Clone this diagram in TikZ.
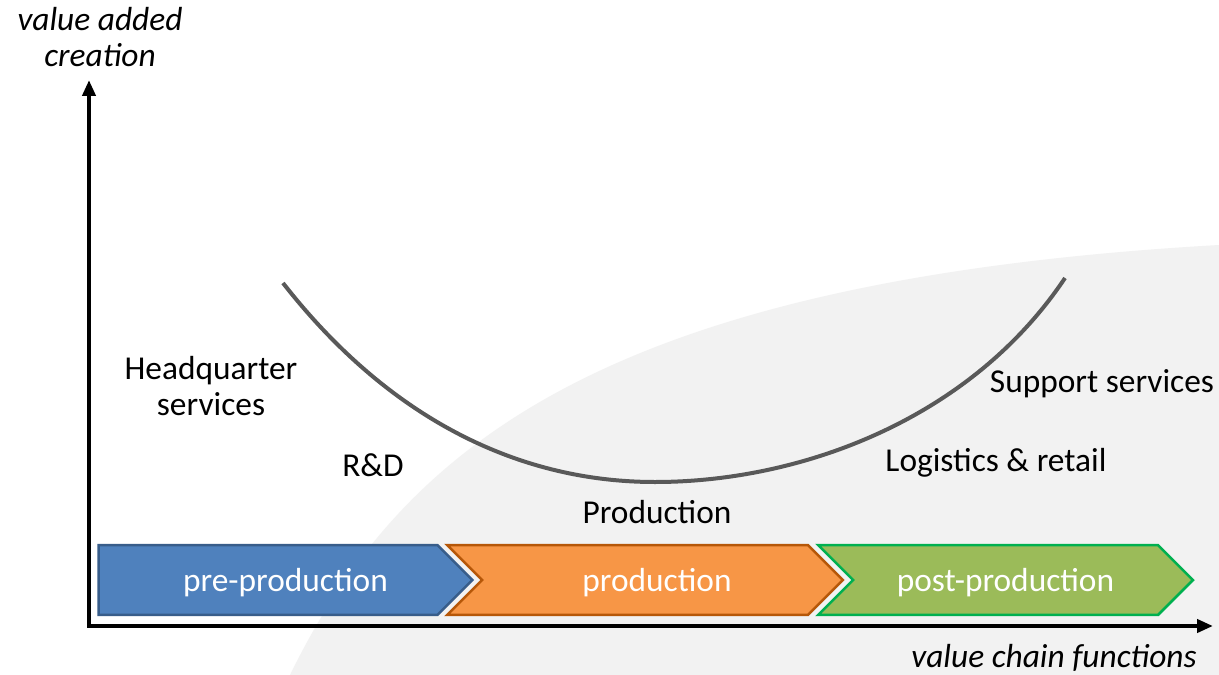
\documentclass[tikz,border=0pt]{standalone}
\usepackage{fontspec}
\setmainfont{Carlito}
\usetikzlibrary{shapes.symbols,arrows.meta}
\definecolor{preblue}{HTML}{4F81BD}
\definecolor{preline}{HTML}{385D8A}
\definecolor{prodorange}{HTML}{F79646}
\definecolor{prodline}{HTML}{B65708}
\definecolor{postgreen}{HTML}{9BBB59}
\definecolor{postline}{HTML}{00B050}
\definecolor{smilegray}{HTML}{595959}
\definecolor{backgray}{HTML}{F2F2F2}

\begin{document}
\begin{tikzpicture}[x=0.02cm, y=-0.02cm,
    every node/.style={font=\fontsize{19}{21}\selectfont, align=center},
    phase/.style={signal, signal to=east, signal pointer angle=90,
        minimum height=1.4cm, inner sep=0pt, text depth=0pt, text=white, line width=0.05cm},
    axisline/.style={line width=0.08cm,
        {Triangle[length=0.32cm, width=0.26cm]}-{Triangle[length=0.32cm, width=0.26cm]}}]
    % background
    \useasboundingbox (0,0) rectangle (1219,675);
    \fill[white] (0,0) rectangle (1219,675);
    \fill[backgray] (290,675) .. controls (400,450) and (600,280) .. (1219,245)
        -- (1219,675) -- cycle;

    % phases of the value chain
    \node[phase, fill=preblue, draw=preline, signal from=nowhere,
        minimum width=7.48cm] (pre) at (268,580) {\hspace*{0.7cm}pre-production};
    \node[phase, fill=prodorange, draw=prodline, signal from=west,
        minimum width=7.92cm] (prodphase) at (645,580) {\hspace*{0.48cm}production};
    \node[phase, fill=postgreen, draw=postline, signal from=west,
        minimum width=7.5cm] (post) at (1005.5,580) {post-production};

    % axes
    \coordinate (origin) at (89,626);
    \coordinate (ytop) at (89,80);
    \coordinate (xend) at (1213,626);
    \draw[axisline] (ytop) -- (origin) -- (xend);
    \node (yaxis) at (100,37) {\itshape value added\\\itshape creation};
    \node (xaxis) at (1054,658) {\itshape value chain functions};

    % smile curve
    \draw[smilegray, line width=0.08cm] (283,283) .. controls (390,420) and (520,482) .. (655,482)
        .. controls (800,482) and (970,420) .. (1065,278);

    \node (hq) at (211,386) {Headquarter\\services};
    \node (rd) at (373,465) {R\&D};
    \node (prod) at (657,512) {Production};
    \node (logi) at (996,463) {Logistics \& retail};
    \node (supp) at (1102,384) {Support services};
\end{tikzpicture}
\end{document}
